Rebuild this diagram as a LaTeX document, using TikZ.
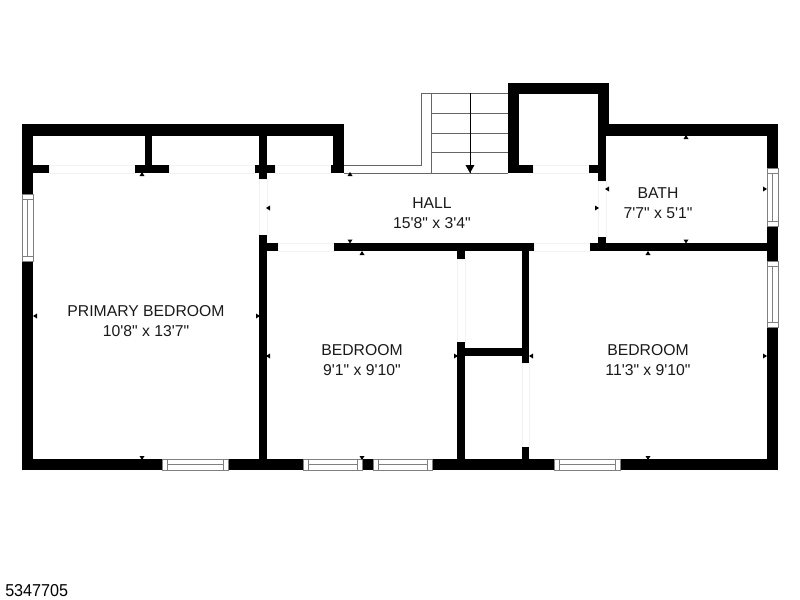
\documentclass[tikz,border=0pt]{standalone}
\usepackage{fontspec}
\newfontfamily\planfont{Liberation Sans}
\newcommand{\wall}[4]{\fill[black] (#1,#2) rectangle (#3,#4);}
\newcommand{\winh}[3]{%
  \draw[sill] (#1,#2) rectangle (#3,#2+11);
  \draw[sill] (#1+5,#2) -- (#1+5,#2+11) (#3-5,#2) -- (#3-5,#2+11);
  \draw[sill] (#1+5,#2+5.5) -- (#3-5,#2+5.5);}
\newcommand{\winv}[3]{%
  \draw[sill] (#1,#2) rectangle (#1+11,#3);
  \draw[sill] (#1,#2+5) -- (#1+11,#2+5) (#1,#3-5) -- (#1+11,#3-5);
  \draw[sill] (#1+5.5,#2+5) -- (#1+5.5,#3-5);}
\begin{document}
\begin{tikzpicture}[
    x=0.75pt, y=-0.75pt,
    sill/.style = {draw=black!50, fill=white, line width=0.7pt},
    door/.style = {draw=black!5, fill=white, line width=0.4pt},
    tread/.style = {draw=black!60, line width=0.7pt},
    lab/.style = {align=center, font=\planfont\fontsize{11.8}{15}\selectfont, text=black!90, inner sep=0pt}
    ]
  \useasboundingbox (0,0) rectangle (800,600);

  % door gaps
  \foreach \xa/\ya/\xb/\yb in {49/165/135/173, 169/165/255/173, 275/165/331/173,
      533/165/589/173, 259/179/267/235, 598/181/606/237, 278/243/334/251,
      534/243/590/251, 457/259/465/342, 522/363/529/447}
    \draw[door] (\xa,\ya) rectangle (\xb,\yb);

  % outer walls
  \wall{22}{124}{344}{136}
  \wall{22}{124}{33}{194}
  \wall{22}{261}{33}{470}
  \wall{22}{459}{162}{470}
  \wall{228}{459}{303}{470}
  \wall{362}{459}{373}{470}
  \wall{432}{459}{554}{470}
  \wall{620}{459}{778}{470}
  \wall{767}{327}{778}{470}
  \wall{767}{226}{778}{261}
  \wall{767}{124}{778}{168}
  \wall{598}{124}{778}{136}
  \wall{508}{83}{609}{94}
  \wall{508}{83}{519}{173}
  \wall{598}{83}{609}{136}
  \wall{333}{124}{344}{173}

  % inner walls
  \wall{33}{165}{49}{173}
  \wall{135}{165}{169}{173}
  \wall{255}{165}{275}{173}
  \wall{331}{165}{344}{173}
  \wall{145}{136}{152}{165}
  \wall{259}{136}{267}{179}
  \wall{259}{235}{267}{459}
  \wall{267}{243}{278}{251}
  \wall{334}{243}{534}{251}
  \wall{590}{243}{778}{251}
  \wall{519}{165}{533}{173}
  \wall{589}{165}{606}{173}
  \wall{598}{136}{606}{181}
  \wall{598}{237}{606}{251}
  \wall{457}{251}{465}{259}
  \wall{457}{342}{465}{459}
  \wall{522}{251}{529}{363}
  \wall{522}{447}{529}{459}
  \wall{465}{348}{522}{356}

  % windows
  \winv{22}{194}{261}
  \winv{767}{168}{226}
  \winv{767}{261}{327}
  \winh{162}{459}{228}
  \winh{303}{459}{362}
  \winh{373}{459}{432}
  \winh{554}{459}{620}

  % stairs
  \coordinate (stairTop) at (470,93);
  \coordinate (stairEnd) at (470,173);
  \draw[tread] (344,165) -- (421,165) -- (421,93) -- (508,93);
  \draw[tread] (344,173) -- (508,173);
  \draw[tread] (431,93) -- (431,173);
  \foreach \y in {113,133,152}
    \draw[tread] (431,\y) -- (508,\y);
  \draw[black, line width=0.5pt] (stairTop) -- (stairEnd);
  \fill[black] (465.5,165) -- (474.5,165) -- (470,173) -- cycle;

  % small ticks
  \foreach \x/\y in {142/174, 350/174, 362/253, 686/137, 648/253}
    \fill[black] (\x-2.5,\y+2) -- (\x+2.5,\y+2) -- (\x,\y-2) -- cycle;
  \foreach \x/\y in {350/241.5, 686/241.5, 142/458, 362/458, 648/458}
    \fill[black] (\x-2.5,\y-2) -- (\x+2.5,\y-2) -- (\x,\y+2) -- cycle;
  \foreach \x/\y in {268/208, 607/189, 35/316, 268/356, 531/356}
    \fill[black] (\x+2,\y-2.5) -- (\x+2,\y+2.5) -- (\x-2,\y) -- cycle;
  \foreach \x/\y in {597/208, 765/189, 258/316, 456/356, 765/356}
    \fill[black] (\x-2,\y-2.5) -- (\x-2,\y+2.5) -- (\x+2,\y) -- cycle;

  % labels
  \node[lab] (primary) at (146,321.5) {PRIMARY BEDROOM\\10'8" x 13'7"};
  \node[lab] (hall) at (432,213.5) {HALL\\15'8" x 3'4"};
  \node[lab] (bath) at (658,203.5) {BATH\\7'7" x 5'1"};
  \node[lab] (bedmid) at (362,360.5) {BEDROOM\\9'1" x 9'10"};
  \node[lab] (bedright) at (648,360.5) {BEDROOM\\11'3" x 9'10"};
  \node[anchor=west, inner sep=0pt, xscale=0.94, font=\planfont\fontsize{12.9}{15}\selectfont] (listing) at (5,590.5) {5347705};
\end{tikzpicture}
\end{document}
